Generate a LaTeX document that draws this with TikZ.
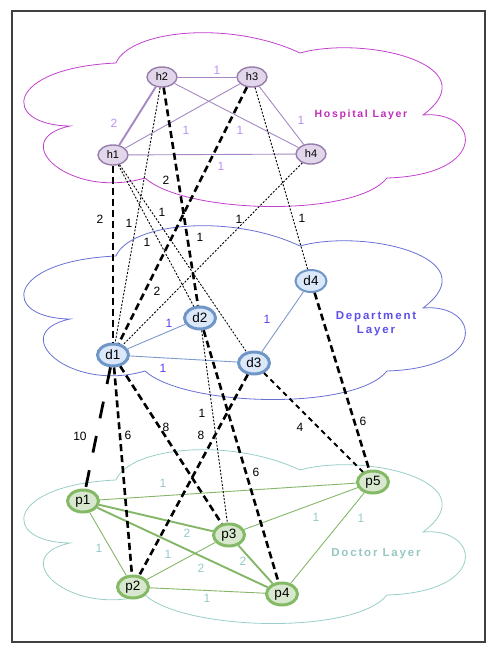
\documentclass[tikz,border=0pt]{standalone}
\usepackage{fontspec}
\setmainfont{Liberation Sans}
\newfontfamily\layerfont[LetterSpace=16]{Liberation Sans}
\usetikzlibrary{positioning, calc, shapes.geometric}
\definecolor{hospCloud}{RGB}{192,64,204}
\definecolor{hospText}{RGB}{192,44,184}
\definecolor{hospEdge}{RGB}{165,135,195}
\definecolor{hospNum}{RGB}{184,144,246}
\definecolor{hospFill}{RGB}{226,214,234}
\definecolor{hospLine}{RGB}{152,124,172}
\definecolor{deptCloud}{RGB}{104,112,212}
\definecolor{deptText}{RGB}{92,80,232}
\definecolor{deptEdge}{RGB}{124,154,204}
\definecolor{deptNum}{RGB}{84,64,240}
\definecolor{deptFill}{RGB}{218,232,250}
\definecolor{deptLine}{RGB}{112,150,200}
\definecolor{docCloud}{RGB}{152,206,200}
\definecolor{docText}{RGB}{150,200,194}
\definecolor{docEdge}{RGB}{132,182,104}
\definecolor{docNum}{RGB}{150,200,200}
\definecolor{docFill}{RGB}{216,232,206}
\definecolor{docLine}{RGB}{132,186,102}
\tikzset{
    hnode/.style={
        ellipse,
        draw=hospLine,
        line width=1.4pt,
        fill=hospFill,
        minimum width=30pt,
        minimum height=20pt,
        inner sep=0pt,
        font=\fontsize{11}{13}\selectfont
    },
    dnode/.style={
        ellipse,
        draw=deptLine,
        line width=3pt,
        fill=deptFill,
        minimum width=31pt,
        minimum height=22pt,
        inner sep=0pt,
        font=\fontsize{13.5}{15}\selectfont
    },
    pnode/.style={
        ellipse,
        draw=docLine,
        line width=3pt,
        fill=docFill,
        minimum width=31pt,
        minimum height=22pt,
        inner sep=0pt,
        font=\fontsize{13.5}{15}\selectfont
    },
    hedge/.style={hospEdge, line width=0.9pt},
    dedge/.style={deptEdge, line width=0.9pt},
    pedge/.style={docEdge, line width=0.9pt},
    heavy/.style={line width=1.9pt},
    hlab/.style={text=hospNum, font=\fontsize{12}{14}\selectfont},
    dlab/.style={text=deptNum, font=\fontsize{12}{14}\selectfont},
    plab/.style={text=docNum, font=\fontsize{12}{14}\selectfont},
    wlab/.style={text=black, font=\fontsize{12}{14}\selectfont},
    strong/.style={black, line width=2.6pt, dash pattern=on 7pt off 4pt},
    faint/.style={black, line width=0.9pt, dash pattern=on 2pt off 1.6pt},
    medium/.style={black, line width=1.8pt, dash pattern=on 5pt off 4pt},
    longdash/.style={black, line width=2.8pt, dash pattern=on 17pt off 18pt},
    layername/.style={font=\layerfont\bfseries\fontsize{10.5}{12.5}\selectfont, align=center}
}
\newcommand{\drawcloud}[2]{%
    \draw[#1, line width=0.8pt, shift={(0,#2)}]
        (70,126) .. controls (0,125) and (5,68) .. (116,63)
        .. controls (130,30) and (230,20) .. (300,53)
        .. controls (365,35) and (490,65) .. (423,115)
        .. controls (480,110) and (490,175) .. (387,178)
        .. controls (355,218) and (185,214) .. (145,178)
        .. controls (70,200) and (5,140) .. (70,126) -- cycle;
}

\begin{document}
\begin{tikzpicture}[x=1pt, y=-1pt]
    \useasboundingbox (0,0) rectangle (498,654);
    \draw[black!75, line width=1.2pt] (12,11) rectangle (485,642);

    % layer clouds
    \drawcloud{hospCloud}{0}
    \drawcloud{deptCloud}{193}
    \drawcloud{docCloud}{417}

    \node[layername, text=hospText] (hname) at (361,115) {Hospital Layer};
    \node[layername, text=deptText, font=\layerfont\bfseries\fontsize{11.5}{14}\selectfont] (dname) at (376,324) {Department\\Layer};
    \node[layername, text=docText, font=\layerfont\bfseries\fontsize{11.5}{14}\selectfont] (pname) at (376,554) {Doctor Layer};

    % hospitals
    \node[hnode] (h1) at (113,155) {h1};
    \node[hnode] (h2) at (162,77) {h2};
    \node[hnode] (h3) at (252,77) {h3};
    \node[hnode] (h4) at (311,154) {h4};

    % departments
    \node[dnode] (d1) at (113,355) {d1};
    \node[dnode] (d2) at (200,318) {d2};
    \node[dnode] (d3) at (254,363) {d3};
    \node[dnode, line width=2pt] (d4) at (311,281) {d4};

    % doctors
    \node[pnode] (p1) at (83,501) {p1};
    \node[pnode] (p2) at (133,587) {p2};
    \node[pnode] (p3) at (229,535) {p3};
    \node[pnode] (p4) at (282,594) {p4};
    \node[pnode] (p5) at (373,482) {p5};

    % hospital layer
    \draw[hedge, heavy] (h1) -- (h2);
    \draw[hedge] (h2) -- (h3);
    \draw[hedge] (h1) -- (h3);
    \draw[hedge] (h2) -- (h4);
    \draw[hedge] (h3) -- (h4);
    \draw[hedge] (h1) -- (h4);
    \node[hlab] (n12) at (114,123) {2};
    \node[hlab] (n23) at (217,70) {1};
    \node[hlab] (n13) at (186,130) {1};
    \node[hlab] (n24) at (240,130) {1};
    \node[hlab] (n34) at (301,120) {1};
    \node[hlab] (n14) at (221,166) {1};

    % department layer
    \draw[dedge] (d1) -- (d2);
    \draw[dedge] (d1) -- (d3);
    \draw[dedge] (d3) -- (d4);
    \node[dlab] (m12) at (169,323) {1};
    \node[dlab] (m13) at (163,368) {1};
    \node[dlab] (m34) at (267,319) {1};

    % doctor layer
    \draw[pedge] (p1) -- (p5);
    \draw[pedge, heavy] (p1) -- (p3);
    \draw[pedge, heavy] (p1) -- (p4);
    \draw[pedge] (p1) -- (p2);
    \draw[pedge] (p2) -- (p3);
    \draw[pedge] (p2) -- (p4);
    \draw[pedge, heavy] (p3) -- (p4);
    \draw[pedge] (p3) -- (p5);
    \draw[pedge] (p4) -- (p5);
    \node[plab] (k15) at (163,483) {1};
    \node[plab] (k13) at (187,533) {2};
    \node[plab] (k14) at (201,568) {2};
    \node[plab] (k12) at (99,548) {1};
    \node[plab] (k23) at (168,554) {1};
    \node[plab] (k24) at (207,598) {1};
    \node[plab] (k34) at (243,561) {2};
    \node[plab] (k35) at (316,517) {1};
    \node[plab] (k45) at (361,518) {1};

    % hospital to department
    \draw[strong] (h1) -- (d1);
    \draw[faint] (h2) -- (d1);
    \draw[strong] (h3) -- (d1);
    \draw[faint] (h4) -- (d1);
    \draw[strong] (h2) -- (d2);
    \draw[faint] (h1) -- (d2);
    \draw[faint] (h1) -- (d3);
    \draw[faint] (h3) -- (d4);
    \node[wlab] (w11) at (100,219) {2};
    \node[wlab] (w21) at (129,223) {1};
    \node[wlab] (w31) at (147,242) {1};
    \node[wlab] (w41) at (239,219) {1};
    \node[wlab] (w22) at (166,180) {2};
    \node[wlab] (w22b) at (200,237) {1};
    \node[wlab] (w13) at (162,212) {1};
    \node[wlab] (w41b) at (157,291) {2};
    \node[wlab] (w34) at (302,218) {1};

    % department to doctor
    \draw[longdash] (d1) -- (p1);
    \draw[strong] (d1) -- (p2);
    \draw[strong] (d1) -- (p3);
    \draw[faint] (d2) -- (p3);
    \draw[strong] (d2) -- (p4);
    \draw[strong] (d3) -- (p2);
    \draw[medium] (d3) -- (p5);
    \draw[strong] (d4) -- (p5);
    \node[wlab] (v11) at (80,436) {10};
    \node[wlab] (v12) at (128,435) {6};
    \node[wlab] (v13) at (166,427) {8};
    \node[wlab] (v23) at (202,413) {1};
    \node[wlab] (v24) at (256,472) {6};
    \node[wlab] (v32) at (201,435) {8};
    \node[wlab] (v35) at (300,427) {4};
    \node[wlab] (v45) at (363,421) {6};
\end{tikzpicture}
\end{document}
